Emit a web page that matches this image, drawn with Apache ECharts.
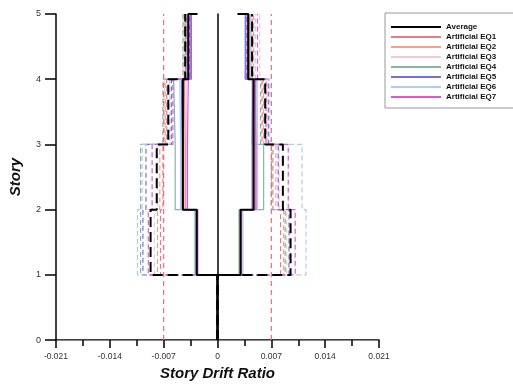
<!DOCTYPE html>
<html>
<head>
<meta charset="utf-8">
<script src="https://cdn.jsdelivr.net/npm/echarts@6/dist/echarts.min.js"></script>
<style>
html,body{margin:0;padding:0;background:#fff;}
#driftChart{width:513px;height:386px;}
</style>
</head>
<body>
<div id="driftChart"></div>
<script>
// drift per story (story 1..5), solid = inner profile, dashed = outer profile
var storyTicks = [0, 1, 2, 3, 4, 5];
var driftTicks = [-0.021, -0.014, -0.007, 0, 0.007, 0.014, 0.021];
var limitValues = [-0.007, 0.007];

var avgSolidNeg = [0, -0.0027, -0.0045, -0.0045, -0.0038];
var avgSolidPos = [0, 0.0030, 0.0047, 0.0047, 0.0040];
var avgDashNeg = [0, -0.0087, -0.0079, -0.0064, -0.0042];
var avgDashPos = [0, 0.0095, 0.0085, 0.0062, 0.0045];
var avgTopCap = [-0.0026, 0.0026];

var eqNames = ['Artificial EQ1', 'Artificial EQ2', 'Artificial EQ3', 'Artificial EQ4', 'Artificial EQ5', 'Artificial EQ6', 'Artificial EQ7'];
var eqColors = ['#e87c8c', '#f3a08c', '#f4c6d6', '#86b6a2', '#7a6ee0', '#b2caf0', '#e058d6'];

var eqSolidNeg = [
    [0, -0.0026, -0.0042, -0.0043, -0.0038],
    [0, -0.0028, -0.0044, -0.0045, -0.0039],
    [0, -0.0025, -0.0040, -0.0041, -0.0036],
    [0, -0.0029, -0.0055, -0.0057, -0.0041],
    [0, -0.0027, -0.0046, -0.0047, -0.0034],
    [0, -0.0030, -0.0048, -0.0049, -0.0040],
    [0, -0.0026, -0.0039, -0.0038, -0.0035]
];
var eqSolidPos = [
    [0, 0.0031, 0.0049, 0.0050, 0.0042],
    [0, 0.0029, 0.0046, 0.0048, 0.0041],
    [0, 0.0032, 0.0051, 0.0052, 0.0044],
    [0, 0.0028, 0.0060, 0.0045, 0.0037],
    [0, 0.0030, 0.0045, 0.0046, 0.0036],
    [0, 0.0033, 0.0052, 0.0051, 0.0043],
    [0, 0.0031, 0.0050, 0.0049, 0.0039]
];
var eqDashNeg = [
    [0, -0.0074, -0.0071, -0.0066, -0.0042],
    [0, -0.0078, -0.0075, -0.0068, -0.0043],
    [0, -0.0082, -0.0078, -0.0069, -0.0044],
    [0, -0.0100, -0.0100, -0.0071, -0.0045],
    [0, -0.0097, -0.0093, -0.0060, -0.0036],
    [0, -0.0104, -0.0098, -0.0062, -0.0040],
    [0, -0.0090, -0.0085, -0.0058, -0.0041]
];
var eqDashPos = [
    [0, 0.0082, 0.0072, 0.0058, 0.0045],
    [0, 0.0086, 0.0076, 0.0060, 0.0047],
    [0, 0.0090, 0.0080, 0.0064, 0.0055],
    [0, 0.0088, 0.0070, 0.0056, 0.0043],
    [0, 0.0093, 0.0079, 0.0066, 0.0038],
    [0, 0.0115, 0.0110, 0.0068, 0.0049],
    [0, 0.0101, 0.0092, 0.0063, 0.0052]
];

var driftChart;

function stepPoints(drift, cap) {
    var pts = [];
    for (var i = 0; i < drift.length; i++) {
        pts.push([drift[i], storyTicks[i]]);
        pts.push([drift[i], storyTicks[i + 1]]);
    }
    if (cap != null) {
        pts.push([cap, storyTicks[storyTicks.length - 1]]);
    }
    return pts;
}

function lineSeries(name, color, width, dash, data, z) {
    return {
        name: name,
        type: 'line',
        data: data,
        symbol: 'none',
        silent: true,
        animation: false,
        z: z,
        color: color,
        itemStyle: {color: color},
        lineStyle: {color: color, width: width, type: dash ? dash : 'solid'}
    };
}

function legendItem(name, color, thick) {
    return {
        name: name,
        icon: 'rect',
        itemHeight: thick ? 3 : 2,
        itemStyle: {color: color, borderWidth: 0}
    };
}

function driftOption() {
    var series = [];
    // average first, drawn on top via z
    series.push(lineSeries('Average', '#000', 2, null, stepPoints(avgSolidNeg, avgTopCap[0]), 5));
    series.push(lineSeries('Average', '#000', 2, null, stepPoints(avgSolidPos, avgTopCap[1]), 5));
    series.push(lineSeries('Average', '#000', 2, [10, 5], stepPoints(avgDashNeg), 5));
    series.push(lineSeries('Average', '#000', 2, [10, 5], stepPoints(avgDashPos), 5));
    for (var i = 0; i < eqNames.length; i++) {
        series.push(lineSeries(eqNames[i], eqColors[i], 1.2, null, stepPoints(eqSolidNeg[i]), 2));
        series.push(lineSeries(eqNames[i], eqColors[i], 1.2, null, stepPoints(eqSolidPos[i]), 2));
        series.push(lineSeries(eqNames[i], eqColors[i], 1.2, [5, 3], stepPoints(eqDashNeg[i]), 2));
        series.push(lineSeries(eqNames[i], eqColors[i], 1.2, [5, 3], stepPoints(eqDashPos[i]), 2));
    }
    for (var j = 0; j < limitValues.length; j++) {
        series.push(lineSeries('limit', '#ec6a7a', 1.2, [5, 4], [[limitValues[j], storyTicks[0]], [limitValues[j], storyTicks[storyTicks.length - 1]]], 3));
    }

    var legendData = [legendItem('Average', '#000', true)];
    for (var k = 0; k < eqNames.length; k++) {
        legendData.push(legendItem(eqNames[k], eqColors[k], false));
    }

    var font = 'Arial, "Liberation Sans", sans-serif';
    return {
        animation: false,
        textStyle: {fontFamily: font},
        grid: {left: 55, right: 134, top: 14, bottom: 45},
        legend: {
            data: legendData,
            orient: 'vertical',
            left: 385,
            top: 13,
            padding: [9, 40, 6, 6],
            itemGap: 0,
            itemWidth: 50,
            itemHeight: 2,
            borderColor: '#999',
            borderWidth: 1,
            textStyle: {fontSize: 8, fontWeight: 'bold', color: '#111', fontFamily: font, lineHeight: 10}
        },
        xAxis: [{
            type: 'value',
            min: driftTicks[0],
            max: driftTicks[driftTicks.length - 1],
            interval: 0.007,
            name: 'Story Drift Ratio',
            nameLocation: 'middle',
            nameGap: 24,
            nameTextStyle: {fontSize: 15, fontWeight: 'bold', fontStyle: 'italic', color: '#111', fontFamily: font},
            axisLine: {onZero: false, lineStyle: {color: '#000', width: 1.5}},
            axisTick: {length: 8, lineStyle: {color: '#000', width: 1.5}},
            minorTick: {show: true, splitNumber: 2, length: 6, lineStyle: {color: '#000', width: 1.5}},
            splitLine: {show: false},
            axisLabel: {fontSize: 8.5, color: '#333', margin: 12, formatter: function (v) {
                return v === 0 ? '0' : v.toFixed(3);
            }}
        }, {
            type: 'value',
            position: 'top',
            min: driftTicks[0],
            max: driftTicks[driftTicks.length - 1],
            axisLine: {show: true, lineStyle: {color: '#888', width: 1.2}},
            axisTick: {show: false},
            axisLabel: {show: false},
            splitLine: {show: false}
        }],
        yAxis: [{
            type: 'value',
            min: storyTicks[0],
            max: storyTicks[storyTicks.length - 1],
            interval: 1,
            name: 'Story',
            nameLocation: 'middle',
            nameGap: 33,
            nameTextStyle: {fontSize: 15, fontWeight: 'bold', fontStyle: 'italic', color: '#111', fontFamily: font},
            axisLine: {onZero: false, lineStyle: {color: '#000', width: 1.5}},
            axisTick: {length: 11, lineStyle: {color: '#000', width: 1.5}},
            splitLine: {show: false},
            axisLabel: {fontSize: 9, color: '#333', margin: 15}
        }, {
            type: 'value',
            position: 'right',
            min: storyTicks[0],
            max: storyTicks[storyTicks.length - 1],
            axisLine: {show: true, lineStyle: {color: '#000', width: 1.5}},
            axisTick: {show: false},
            axisLabel: {show: false},
            splitLine: {show: false}
        }],
        series: series
    };
}

driftChart = echarts.init(document.getElementById('driftChart'));
driftChart.setOption(driftOption());
</script>
</body>
</html>
